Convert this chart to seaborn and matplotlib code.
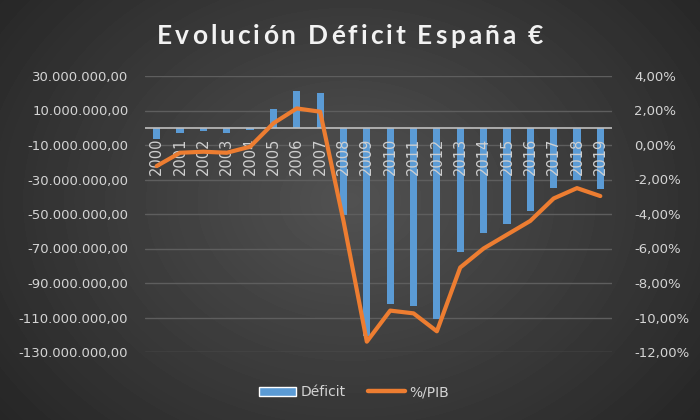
import numpy as np
import pandas as pd
import matplotlib
matplotlib.use('Agg')
import matplotlib.pyplot as plt
import seaborn as sns
from matplotlib.patches import Patch
from matplotlib.lines import Line2D
from matplotlib.ticker import FuncFormatter
from matplotlib.font_manager import findfont, FontProperties
from matplotlib.ft2font import FT2Font

# data
years = ['2000', '2001', '2002', '2003', '2004', '2005', '2006', '2007', '2008', '2009',
         '2010', '2011', '2012', '2013', '2014', '2015', '2016', '2017', '2018', '2019']
deficit = [-6.7e6, -3.3e6, -2.1e6, -3.3e6, -1.2e6, 11.1e6, 21.3e6, 20.2e6, -50.4e6, -121.0e6,
           -102.4e6, -103.5e6, -111.0e6, -71.8e6, -61.0e6, -56.0e6, -48.1e6, -35.0e6, -30.2e6, -35.6e6]
pct_pib = [-1.22, -0.45, -0.39, -0.45, -0.10, 1.26, 2.12, 1.93, -4.4, -11.4,
           -9.6, -9.76, -10.8, -7.1, -6.0, -5.2, -4.4, -3.1, -2.5, -2.96]
title = 'Evolución Déficit España €'

df = pd.DataFrame({'year': years, 'deficit': deficit, 'pct': pct_pib})

sns.set_theme(style='dark')
plt.rcParams['font.family'] = ['DejaVu Sans']

text_col = '#d4d4d4'
blue = '#5b9bd5'
orange = '#ed7d31'

fig = plt.figure(figsize=(7, 4.2), dpi=100)

# radial gradient background
bg = fig.add_axes([0, 0, 1, 1], zorder=-10)
yy, xx = np.mgrid[0:420, 0:700]
r = np.sqrt(((xx - 350) / 420.0) ** 2 + ((yy - 200) / 330.0) ** 2)
shade = np.clip(0.32 - 0.16 * r, 0.13, 0.32)
bg.imshow(shade, cmap='gray', vmin=0, vmax=1, aspect='auto', extent=[0, 1, 0, 1])
bg.axis('off')

ax = fig.add_axes([145 / 700, 1 - 352 / 420, 467 / 700, 276 / 420])
ax.patch.set_alpha(0)

sns.barplot(data=df, x='year', y='deficit', color=blue, width=0.31,
            saturation=1, linewidth=0, ax=ax, zorder=3)
ax.set_ylim(-130e6, 30e6)
ax.set_xlim(-0.5, len(years) - 0.5)
ax.set_yticks(np.arange(-130e6, 31e6, 20e6))

def fmt_eur(v, _):
    s = f'{v:,.2f}'
    return s.replace(',', 'X').replace('.', ',').replace('X', '.')

ax.yaxis.set_major_formatter(FuncFormatter(fmt_eur))
ax.tick_params(axis='y', colors=text_col, labelsize=9.5, length=0, pad=12)
ax.tick_params(axis='x', length=0, labelbottom=False)
ax.set_xlabel('')
ax.set_ylabel('')
ax.grid(axis='y', color='#5e5e5e', linewidth=1, zorder=0)
ax.grid(axis='x', visible=False)
ax.axhline(0, color='#bfbfbf', linewidth=1.2, zorder=4)
for s in ax.spines.values():
    s.set_visible(False)

# year labels under the zero line
for i, y in enumerate(years):
    ax.annotate(y, (i, 0), xytext=(0, -7), textcoords='offset points',
                rotation=90, ha='center', va='top', color='#cfcfcf',
                fontsize=10.5, zorder=6)

ax2 = ax.twinx()
sns.lineplot(x=np.arange(len(years)), y=df['pct'], color=orange, linewidth=3.0,
             ax=ax2, zorder=5)
ax2.set_ylim(-12, 4)
ax2.set_yticks(np.arange(-12, 4.1, 2))
ax2.yaxis.set_major_formatter(FuncFormatter(lambda v, _: f'{v:.2f}%'.replace('.', ',')))
ax2.tick_params(axis='y', colors=text_col, labelsize=9.5, length=0, pad=16)
ax2.set_ylabel('')
ax2.grid(False)
for s in ax2.spines.values():
    s.set_visible(False)
ax2.set_xlim(-0.5, len(years) - 0.5)

# title with extra letter spacing, placed glyph by glyph
title_size = 19
fp = FontProperties(family='Lato', weight='bold', size=title_size)
ft = FT2Font(findfont(fp))
ft.set_size(title_size, 100)
adv = [ft.load_char(ord(c)).linearHoriAdvance / 65536 for c in title]
target_w = 386.0
gap = (target_w - sum(adv)) / (len(title) - 1)
x = 350 - target_w / 2
for c, a in zip(title, adv):
    fig.text(x / 700, 1 - 36 / 420, c, ha='left', va='center', color='#f2f2f2',
             fontproperties=fp)
    x += a + gap

handles = [Patch(facecolor=blue, label='Déficit'),
           Line2D([0], [0], color=orange, linewidth=3.2, solid_capstyle='round', label='%/PIB')]
leg = fig.legend(handles=handles, loc='center', bbox_to_anchor=(354 / 700, 1 - 392 / 420),
                 ncol=2, frameon=False, fontsize=10, labelcolor=text_col,
                 handlelength=2.7, handleheight=0.6, handletextpad=0.3, columnspacing=1.6)

fig.savefig('out.png', dpi=100)
